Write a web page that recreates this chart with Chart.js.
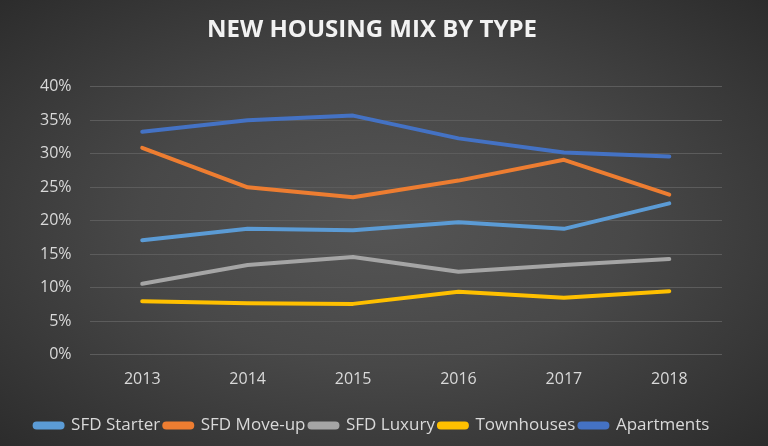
<!DOCTYPE html>
<html>
<head>
<meta charset="utf-8">
<script src="https://cdn.jsdelivr.net/npm/chart.js@4"></script>
<style>
  html, body { margin: 0; padding: 0; }
  body {
    width: 768px; height: 446px; overflow: hidden;
    background: radial-gradient(ellipse at 50% 50%, #555555 0%, #484848 45%, #2c2c2c 100%);
  }
  #wrap { width: 768px; height: 446px; position: relative; }
</style>
</head>
<body>
<div id="wrap"><canvas id="graficaMix"></canvas></div>
<script>
const anios = ["2013", "2014", "2015", "2016", "2017", "2018"];

const sfdStarter   = [17.1, 18.8, 18.6, 19.8, 18.8, 22.6];
const sfdMoveUp    = [30.9, 25.0, 23.5, 26.0, 29.1, 23.9];
const sfdLuxury    = [10.6, 13.4, 14.6, 12.4, 13.4, 14.3];
const townhouses   = [8.0, 7.7, 7.6, 9.4, 8.5, 9.5];
const apartamentos = [33.3, 35.0, 35.7, 32.3, 30.2, 29.6];

const series = [
    { nombre: "SFD Starter", valores: sfdStarter, color: "#5B9BD5" },
    { nombre: "SFD Move-up", valores: sfdMoveUp, color: "#ED7D31" },
    { nombre: "SFD Luxury", valores: sfdLuxury, color: "#A5A5A5" },
    { nombre: "Townhouses", valores: townhouses, color: "#FFC000" },
    { nombre: "Apartments", valores: apartamentos, color: "#4472C4" }
];

function crearGraficaLineas(idCanvas) {
    const ctx = document.getElementById(idCanvas);
    if (!ctx) {
        console.warn("No se encontró el canvas:", idCanvas);
        return;
    }

    new Chart(ctx, {
        type: "line",
        data: {
            labels: anios,
            datasets: series.map(s => ({
                label: s.nombre,
                data: s.valores,
                borderColor: s.color,
                backgroundColor: s.color,
                borderWidth: 4,
                borderCapStyle: "round",
                borderJoinStyle: "round",
                pointRadius: 0,
                tension: 0
            }))
        },
        options: {
            responsive: true,
            maintainAspectRatio: false,
            animation: false,
            layout: { padding: { left: 22, right: 46, top: 16, bottom: 2 } },
            plugins: {
                title: {
                    display: true,
                    text: "NEW HOUSING MIX BY TYPE",
                    color: "#F2F2F2",
                    font: { family: "'Open Sans'", size: 24, weight: "bold" },
                    padding: { top: 0, bottom: 42 }
                },
                legend: {
                    position: "bottom",
                    labels: {
                        color: "#D9D9D9",
                        font: { family: "'Open Sans'", size: 17 },
                        boxWidth: 28,
                        boxHeight: 4,
                        padding: 4,
                        useBorderRadius: true,
                        borderRadius: 2
                    }
                },
                tooltip: { enabled: false }
            },
            scales: {
                x: {
                    offset: true,
                    grid: { display: false, drawTicks: false },
                    border: { display: false },
                    ticks: {
                        color: "#D9D9D9",
                        font: { family: "'Open Sans'", size: 16 },
                        padding: 15
                    },
                    afterFit: escala => { escala.height += 9; }
                },
                y: {
                    min: 0,
                    max: 40,
                    grid: { color: "#5C5C5C", lineWidth: 1, drawTicks: false },
                    border: { display: false },
                    ticks: {
                        stepSize: 5,
                        color: "#D9D9D9",
                        font: { family: "'Open Sans'", size: 16 },
                        padding: 18,
                        callback: v => v + "%"
                    }
                }
            }
        }
    });
}

document.addEventListener("DOMContentLoaded", () => {
    crearGraficaLineas("graficaMix");
});
</script>
</body>
</html>
